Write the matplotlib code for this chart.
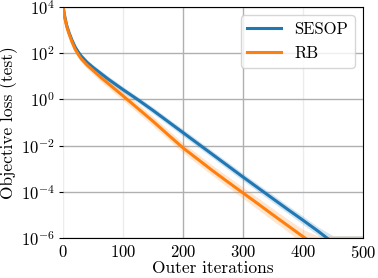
import numpy as np
import matplotlib
matplotlib.use("Agg")
import matplotlib.pyplot as plt
from matplotlib.ticker import LogFormatterSciNotation, NullLocator

plt.rcParams['font.family'] = ['cmr10', 'DejaVu Serif']
plt.rcParams['mathtext.fontset'] = 'cm'
plt.rcParams['axes.formatter.use_mathtext'] = True
plt.rcParams['font.size'] = 12

iters = [0, 3, 6, 10, 15, 20, 25, 30, 40, 50, 62, 75, 100, 125, 150, 175,
         200, 225, 250, 275, 300, 325, 350, 375, 400, 425, 450, 475, 500]
sesop_log = [4.0, 3.55, 3.2, 2.88, 2.55, 2.27, 2.06, 1.88, 1.6, 1.38, 1.14, 0.88,
             0.42, -0.02, -0.48, -0.96, -1.44, -1.92, -2.4, -2.88, -3.36,
             -3.83, -4.3, -4.77, -5.23, -5.7, -6.2, -6.7, -7.2]
sesop_spread = [0.0, 0.02, 0.03, 0.04, 0.06, 0.08, 0.09, 0.1, 0.12, 0.12, 0.12, 0.13,
                0.13, 0.13, 0.14, 0.14, 0.15, 0.15, 0.15, 0.16, 0.16, 0.16,
                0.17, 0.17, 0.18, 0.18, 0.2, 0.2, 0.2]
sesop_floor = -5.9

rb_log = [4.0, 3.5, 3.15, 2.82, 2.47, 2.17, 1.95, 1.76, 1.48, 1.25, 0.97, 0.69,
          0.15, -0.4, -0.95, -1.53, -2.1, -2.6, -3.1, -3.58, -4.05, -4.52,
          -5.0, -5.47, -5.94, -6.4, -6.9, -7.35, -7.8]
rb_spread = [0.0, 0.02, 0.03, 0.05, 0.07, 0.09, 0.11, 0.12, 0.15, 0.17, 0.18, 0.19,
             0.2, 0.2, 0.2, 0.21, 0.21, 0.22, 0.22, 0.23, 0.24, 0.25,
             0.26, 0.27, 0.3, 0.3, 0.3, 0.3, 0.3]
rb_floor = -5.93

yticks = [1e-6, 1e-4, 1e-2, 1e0, 1e2, 1e4]
xticks = [0, 100, 200, 300, 400, 500]

fig = plt.figure(figsize=(3.78, 2.78), dpi=100)
ax = fig.add_axes([0.167, 0.144, 0.793, 0.831])

x = np.array(iters)
for logs, spread, floor, color, name in [
        (sesop_log, sesop_spread, sesop_floor, '#1f77b4', 'SESOP'),
        (rb_log, rb_spread, rb_floor, '#ff7f0e', 'RB')]:
    logs = np.array(logs)
    spread = np.array(spread)
    hi = np.maximum(logs + spread, floor)
    lo = logs - spread
    ax.fill_between(x, 10.0 ** lo, 10.0 ** hi, color=color, alpha=0.2, lw=0)
    ax.plot(x, 10.0 ** logs, color=color, lw=2.2, label=name)

ax.set_yscale('log')
ax.set_xlim(0, 500)
ax.set_ylim(1e-6, 1e4)
ax.set_xticks(xticks)
ax.set_yticks(yticks)
ax.yaxis.set_major_formatter(LogFormatterSciNotation())
ax.yaxis.set_minor_locator(NullLocator())
ax.tick_params(axis='x', length=0, pad=4)
ax.tick_params(axis='y', length=3, pad=3)

ax.grid(True, axis='y', color='#b0b0b0', lw=1)
# vertical grid: 200 and 300 darker, the rest faint
for xv in xticks:
    c = '#b0b0b0' if xv in (200, 300) else '#ececec'
    ax.axvline(xv, color=c, lw=1, zorder=0.5)
ax.set_axisbelow(True)
ax.spines['left'].set_visible(False)

ax.set_xlabel('Outer iterations', labelpad=0, fontsize=12.5)
ax.set_ylabel('Objective loss (test)', labelpad=2, fontsize=12.5)
ax.legend(loc='upper right')

fig.savefig('out.png', dpi=100)
